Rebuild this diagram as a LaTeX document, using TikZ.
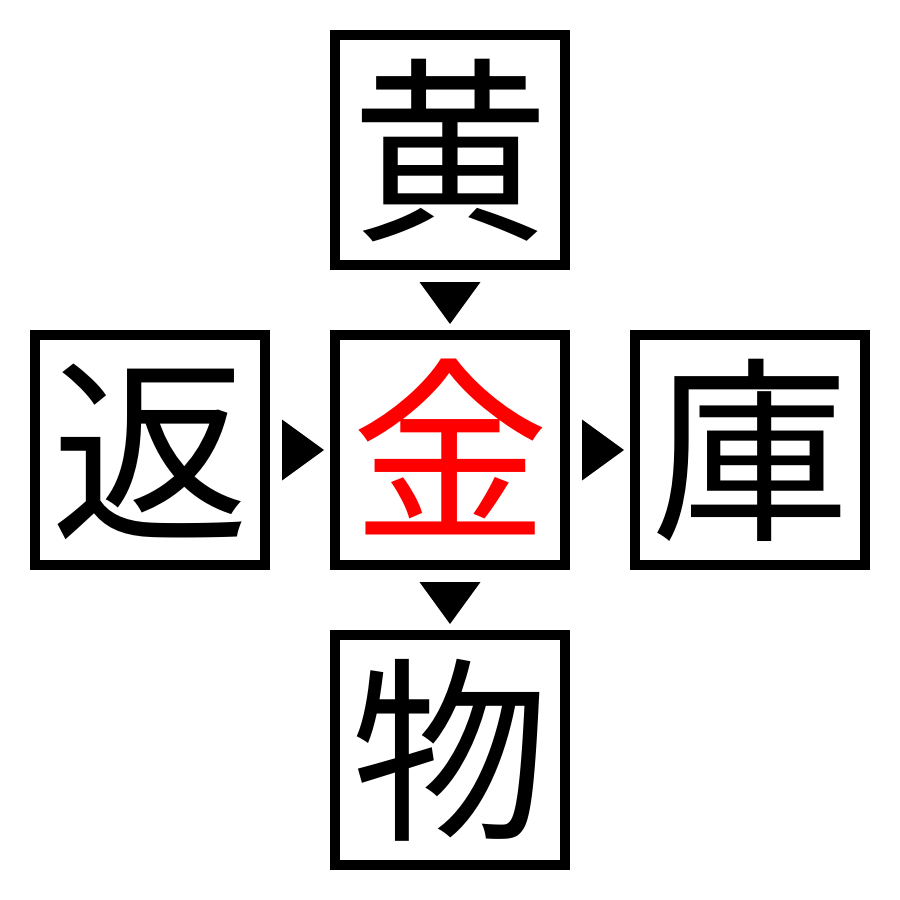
\documentclass[tikz,border=0pt]{standalone}
\usepackage{fontspec}
\newfontfamily\cjk{Noto Sans CJK JP}
\begin{document}
\begin{tikzpicture}[x=1pt,y=-1pt,
  cell/.style={draw=black,line width=10pt,minimum size=230pt,inner sep=0pt,outer sep=0pt,fill=white},
  glyph/.style={anchor=base,inner sep=0pt,font=\cjk\fontsize{198}{198}\selectfont},
  marker/.style={fill=black,draw=none}]
\useasboundingbox[fill=white] (0,0) rectangle (900,900);
\node[cell] (top) at (450,150) {};
\node[cell] (left) at (150,450) {};
\node[cell] (mid) at (450,450) {};
\node[cell] (right) at (750,450) {};
\node[cell] (bot) at (450,750) {};
\node[glyph] (ttop) at ([yshift=-75pt]top.center) {黄};
\node[glyph] (tleft) at ([yshift=-75pt]left.center) {返};
\node[glyph,text=red] (tmid) at ([yshift=-75pt]mid.center) {金};
\node[glyph] (tright) at ([yshift=-75pt]right.center) {庫};
\node[glyph] (tbot) at ([yshift=-75pt]bot.center) {物};
% markers (anchors lie on the border's centre line, 5pt inside the outer edge)
\fill[marker] ([xshift=-30.5pt,yshift=-17pt]top.south) -- ([xshift=30.5pt,yshift=-17pt]top.south) -- ([yshift=-59pt]top.south) -- cycle;
\fill[marker] ([xshift=-30.5pt,yshift=-17pt]mid.south) -- ([xshift=30.5pt,yshift=-17pt]mid.south) -- ([yshift=-59pt]mid.south) -- cycle;
\fill[marker] ([xshift=17pt,yshift=-30.5pt]left.east) -- ([xshift=17pt,yshift=30.5pt]left.east) -- ([xshift=59pt]left.east) -- cycle;
\fill[marker] ([xshift=17pt,yshift=-30.5pt]mid.east) -- ([xshift=17pt,yshift=30.5pt]mid.east) -- ([xshift=59pt]mid.east) -- cycle;
\end{tikzpicture}
\end{document}
